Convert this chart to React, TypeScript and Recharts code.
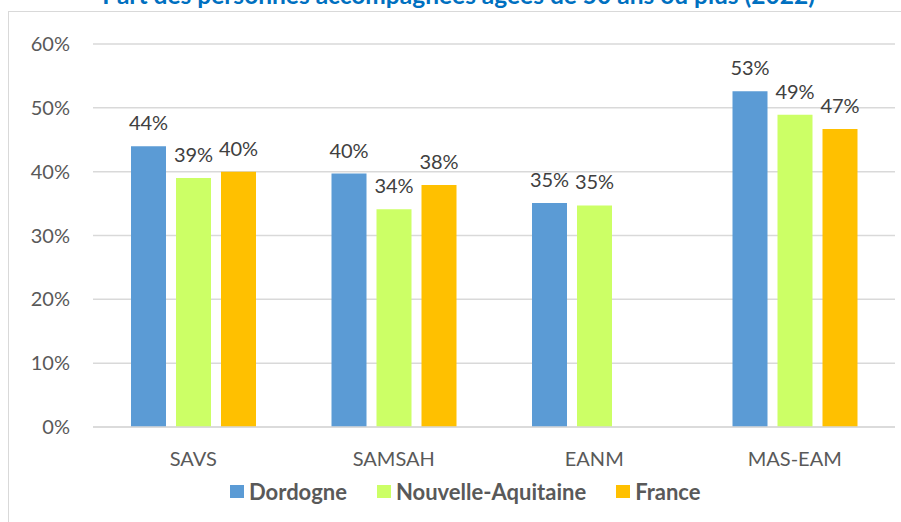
import React from "react";
import { BarChart, Bar, XAxis, YAxis, CartesianGrid, LabelList } from "recharts";

const categories = ["SAVS", "SAMSAH", "EANM", "MAS-EAM"];
const dordogne = [0.44, 0.397, 0.351, 0.526];
const nouvelleAquitaine = [0.39, 0.341, 0.347, 0.489];
const france: (number | null)[] = [0.4, 0.379, null, 0.467];
const yTicks = [0, 0.1, 0.2, 0.3, 0.4, 0.5, 0.6];

const series = [
  { key: "dordogne", name: "Dordogne", color: "#5B9BD5" },
  { key: "nouvelleAquitaine", name: "Nouvelle-Aquitaine", color: "#CCFF66" },
  { key: "france", name: "France", color: "#FFC000" },
];

const data = categories.map((c, i) => ({
  category: c,
  dordogne: dordogne[i],
  nouvelleAquitaine: nouvelleAquitaine[i],
  france: france[i],
}));

const FONT = "Lato, 'Open Sans', sans-serif";
const pct = (v: any) => (v == null ? "" : `${Math.round(v * 100)}%`);

const App = () => {
  return (
    <div
      style={{
        position: "absolute",
        left: 0,
        top: 0,
        width: 901,
        height: 522,
        overflow: "hidden",
        background: "#fff",
        fontFamily: FONT,
      }}
    >
      <div
        style={{
          position: "absolute",
          left: 8,
          top: 11,
          width: 1000,
          height: 700,
          border: "1px solid #d9d9d9",
        }}
      />
      <div
        style={{
          position: "absolute",
          left: 0,
          width: 917,
          top: -20,
          textAlign: "center",
          color: "#0070C0",
          fontWeight: "bold",
          fontSize: 24.5,
          whiteSpace: "nowrap",
        }}
      >
        Part des personnes accompagnées âgées de 50 ans ou plus (2022)
      </div>
      <div style={{ position: "absolute", left: 0, top: 0 }}>
        <BarChart
          width={901}
          height={522}
          data={data}
          barSize={35}
          barGap={10}
          margin={{ top: 44, right: 6, left: 33, bottom: 65 }}
        >
          <CartesianGrid vertical={false} stroke="#d9d9d9" strokeWidth={1.5} />
          <XAxis
            dataKey="category"
            axisLine={{ stroke: "#d9d9d9", strokeWidth: 1.5 }}
            tickLine={false}
            tickMargin={19}
            height={30}
            tick={{ fill: "#595959", fontSize: 20, fontFamily: FONT }}
          />
          <YAxis
            domain={[0, 0.6]}
            ticks={yTicks}
            tickFormatter={pct}
            axisLine={false}
            tickLine={false}
            tickMargin={17}
            width={60}
            tick={{ fill: "#595959", fontSize: 20, fontFamily: FONT }}
          />
          {series.map((s) => (
            <Bar
              key={s.key}
              dataKey={s.key}
              name={s.name}
              fill={s.color}
              isAnimationActive={false}
            >
              <LabelList
                dataKey={s.key}
                position="top"
                offset={16}
                formatter={pct}
                style={{ fill: "#404040", fontSize: 20, fontFamily: FONT }}
              />
            </Bar>
          ))}
        </BarChart>
      </div>
      <div
        style={{
          position: "absolute",
          left: 230,
          top: 478,
          display: "flex",
          alignItems: "center",
          fontSize: 22,
          fontWeight: "bold",
          color: "#595959",
          whiteSpace: "nowrap",
        }}
      >
        {series.map((s) => (
          <div
            key={s.key}
            style={{ display: "flex", alignItems: "center", marginRight: 30 }}
          >
            <span
              style={{
                display: "inline-block",
                width: 14,
                height: 13,
                background: s.color,
                marginRight: 5,
              }}
            />
            <span>{s.name}</span>
          </div>
        ))}
      </div>
    </div>
  );
};

export default App;
